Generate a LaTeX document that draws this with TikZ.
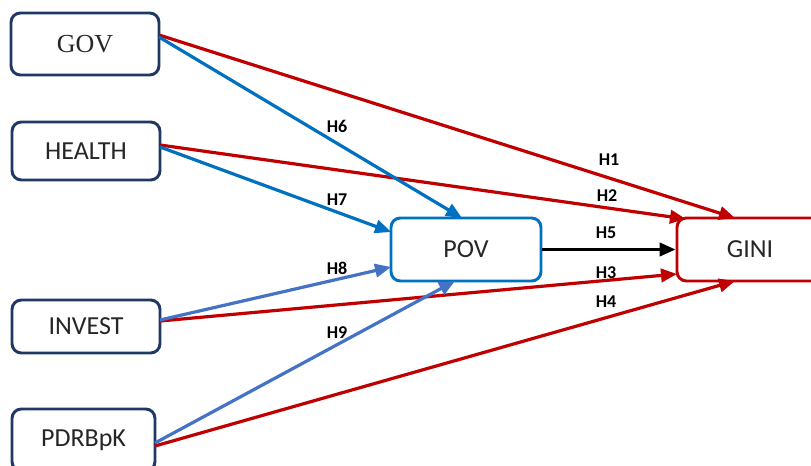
\documentclass[tikz,border=0pt]{standalone}
\usepackage{fontspec}
\setmainfont{Carlito}
\newfontfamily\serifgov{Liberation Serif}
\usetikzlibrary{arrows.meta,calc}
\definecolor{cred}{HTML}{C00000}
\definecolor{cblue}{HTML}{0070C0}
\definecolor{clblue}{HTML}{4472C4}
\definecolor{cnavy}{HTML}{1F3864}
\definecolor{ctext}{HTML}{262626}
\begin{document}
\begin{tikzpicture}[x=0.75pt,y=0.75pt,
  box/.style={draw=cnavy,line width=2.2pt,rounded corners=7pt,fill=white,
    text=ctext,font=\fontsize{19.5}{21}\selectfont,inner sep=0pt},
  lab/.style={font=\bfseries\fontsize{13.5}{15}\selectfont,text=black},
  conn/.style={line width=2.4pt,-{Triangle[length=12pt,width=10pt]}},
]
\clip (0,0) rectangle (811,465);
\useasboundingbox (0,0) rectangle (811,465);
% nodes (px coords, y flipped)
\node[box,minimum width={148*0.75pt},minimum height={62*0.75pt}] (GOV) at (85,{465-44}) {\serifgov GOV};
\node[box,minimum width={148*0.75pt},minimum height={58*0.75pt}] (HEALTH) at (86,{465-151}) {HEALTH};
\node[box,minimum width={148*0.75pt},minimum height={53*0.75pt}] (INVEST) at (86,{465-326.5}) {INVEST};
\node[box,minimum width={143*0.75pt},minimum height={62*0.75pt}] (PDRB) at (83.5,{465-440}) {PDRBpK};
\node[box,draw=cblue,minimum width={150*0.75pt},minimum height={63*0.75pt}] (POV) at (466,{465-249.5}) {POV};
\node[box,draw=cred,minimum width={146*0.75pt},minimum height={63*0.75pt}] (GINI) at (750,{465-249.5}) {GINI};
% endpoints
\coordinate (g1) at (159,{465-35});
\coordinate (g2) at (159,{465-37});
\coordinate (h1) at (160,{465-145});
\coordinate (h2) at (160,{465-147});
\coordinate (i1) at (160,{465-320});
\coordinate (i2) at (160,{465-321});
\coordinate (p1) at (155,{465-443});
\coordinate (p2) at (155,{465-446});
\coordinate (giniT1) at (735,{465-218});
\coordinate (giniT2) at (686,{465-219});
\coordinate (giniL3) at (677,{465-274});
\coordinate (giniB4) at (735,{465-281});
\coordinate (povT) at (462,{465-218});
\coordinate (povL1) at (391,{465-232});
\coordinate (povL2) at (391,{465-267});
\coordinate (povB) at (455,{465-281});
% connectors
\draw[conn,cred] (g1) -- (giniT1);
\draw[conn,cred] (h1) -- (giniT2);
\draw[conn,cred] (i2) -- (giniL3);
\draw[conn,cred] (p2) -- (giniB4);
\draw[conn,cblue] (g2) -- (povT);
\draw[conn,cblue] (h2) -- (povL1);
\draw[conn,clblue] (i1) -- (povL2);
\draw[conn,clblue] (p1) -- (povB);
\draw[conn,black] (POV.east) -- (GINI.west);
% labels
\node[lab] (lH6) at (337,{465-126}) {H6};
\node[lab] (lH7) at (337,{465-200}) {H7};
\node[lab] (lH8) at (337,{465-268}) {H8};
\node[lab] (lH9) at (337,{465-333}) {H9};
\node[lab] (lH1) at (609,{465-160}) {H1};
\node[lab] (lH2) at (607,{465-196}) {H2};
\node[lab] (lH5) at (606,{465-233}) {H5};
\node[lab] (lH3) at (606,{465-273}) {H3};
\node[lab] (lH4) at (606,{465-302}) {H4};
\end{tikzpicture}
\end{document}
